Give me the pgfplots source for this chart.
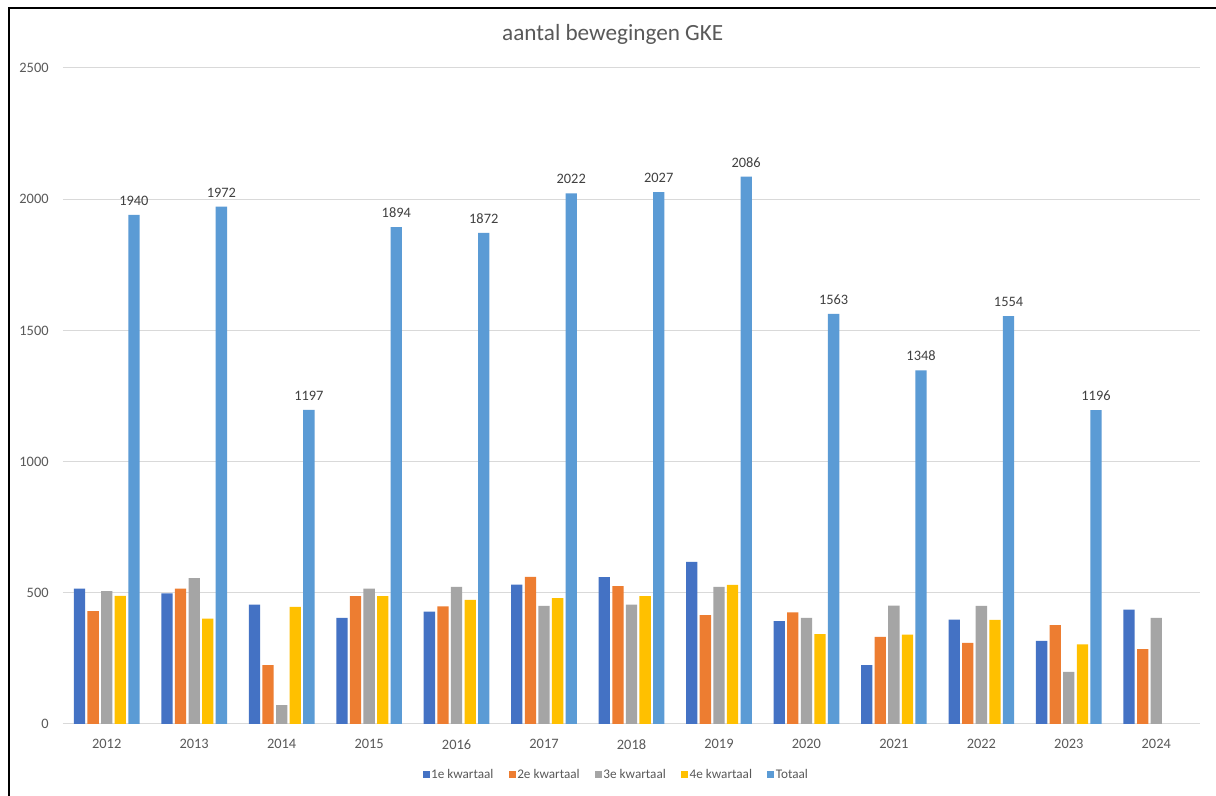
\documentclass[border=0pt]{standalone}
\usepackage{fontspec}
\setmainfont{Carlito}
\usepackage{pgfplots}
\pgfplotsset{compat=1.18}

\definecolor{kw1}{HTML}{4472C4}
\definecolor{kw2}{HTML}{ED7D31}
\definecolor{kw3}{HTML}{A5A5A5}
\definecolor{kw4}{HTML}{FFC000}
\definecolor{tot}{HTML}{5B9BD5}
\definecolor{txt}{HTML}{595959}
\definecolor{grd}{HTML}{D9D9D9}

% jaar index 0..12 = 2012..2024
\pgfplotstableread{
x  k1   k2   k3   k4   tot
0  516  430  506  488  1940
1  498  516  556  402  1972
2  455  224  72   446  1197
3  404  487  516  487  1894
4  428  448  523  473  1872
5  531  561  450  480  2022
6  560  525  455  487  2027
7  618  415  523  530  2086
8  392  425  404  342  1563
9  224  332  451  341  1348
10 398  309  450  397  1554
11 317  377  199  303  1196
12 436  285  404  nan  nan
}\gke

\begin{document}
\begin{tikzpicture}
\path[use as bounding box, fill=white] (0,0) rectangle (608pt,398pt);
\draw[black, line width=1pt] (4.5pt,0) -- (4.5pt,394pt) -- (608pt,394pt);
\begin{axis}[
    at={(31.5pt,36pt)}, anchor=south west,
    scale only axis, width=568.5pt, height=328pt,
    ybar, bar width=5.65pt,
    xmin=-0.5, xmax=12.5,
    ymin=0, ymax=2500,
    xtick={0,...,12},
    xticklabels={2012,2013,2014,2015,2016,2017,2018,2019,2020,2021,2022,2023,2024},
    ytick={0,500,...,2500},
    ymajorgrids, grid style={grd, line width=0.5pt},
    axis line style={draw=none},
    major tick length=0pt,
    /pgf/number format/1000 sep={},
    /pgf/number format/assume math mode=true,
    tick label style={font=\fontsize{7.2}{8.6}\selectfont, color=txt, inner sep=0pt},
    yticklabel style={anchor=east, xshift=-7pt},
    xticklabel style={anchor=north, yshift=-7.5pt},
    title={aantal bewegingen GKE},
    every axis title shift=0pt,
    title style={at={(0.4835,1.0416)}, anchor=base, yshift=0pt, inner sep=0pt,
        font=\fontsize{11.6}{13.5}\selectfont, color=txt},
    legend columns=5,
    legend style={at={(0.4864,-0.0777)}, anchor=center, draw=none, fill=none,
        font=\fontsize{6.6}{7.9}\selectfont, text=txt, inner sep=0pt,
        nodes={inner sep=0.7pt},
        /tikz/every even column/.append style={column sep=7pt}},
    legend image code/.code={\fill[#1] (0pt,-1.75pt) rectangle (3.5pt,1.75pt);},
]
\addplot[fill=kw1, draw=none, bar shift=-13.6pt] table[x=x, y=k1] {\gke};
\addplot[fill=kw2, draw=none, bar shift=-6.8pt] table[x=x, y=k2] {\gke};
\addplot[fill=kw3, draw=none, bar shift=0pt] table[x=x, y=k3] {\gke};
\addplot[fill=kw4, draw=none, bar shift=6.8pt] table[x=x, y=k4] {\gke};
\addplot[fill=tot, draw=none, bar shift=13.6pt,
    nodes near coords,
    nodes near coords style={font=\fontsize{7.2}{8.6}\selectfont, color=black!75, anchor=south, inner sep=0pt, yshift=4.5pt}]
    table[x=x, y=tot] {\gke};
\legend{1e kwartaal, 2e kwartaal, 3e kwartaal, 4e kwartaal, Totaal}
\end{axis}
\end{tikzpicture}
\end{document}
